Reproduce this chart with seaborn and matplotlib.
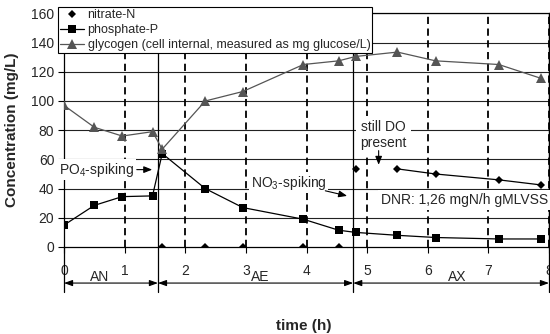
import matplotlib

matplotlib.use("Agg")

import matplotlib.pyplot as plt
import pandas as pd
import seaborn as sns


TIME = [0, 0.5, 0.96, 1.46, 1.62, 2.33, 2.95, 3.95, 4.53, 4.81, 5.5, 6.13, 7.17, 7.87]
GLYCOGEN = [97, 82, 76, 79, 67, 100, 106.5, 125, 127.5, 130.5, 133.5, 127.5, 125, 115.5]
PHOSPHATE = [15, 28.5, 34.5, 35, 64, 40, 27, 19, 11.5, 10, 8, 6.5, 5.5, 5.5]
NITRATE_TIME = [1.62, 2.33, 2.95, 3.95, 4.53, 4.81, 5.5, 6.13, 7.17, 7.87]
NITRATE = [0, 0, 0, 0, 0, 53.5, 53.5, 50, 46, 42.5]
NITRATE_LINE_FROM = 6  # line drawn only from 5.5 h on

PHASE_BOUNDS = [0, 1.55, 4.77, 8]
PHASE_NAMES = ["AN", "AE", "AX"]
PHASE_LABEL_X = [0.58, 3.24, 6.48]
DASHED_AT = [1, 2, 3, 4, 5, 6, 7, 8]

LABELS = {
    "nitrate": "nitrate-N",
    "phosphate": "phosphate-P",
    "glycogen": "glycogen (cell internal, measured as mg glucose/L)",
}

sns.set_style("ticks")
plt.rcParams["font.family"] = ["Liberation Sans", "DejaVu Sans"]
plt.rcParams["mathtext.fontset"] = "custom"
plt.rcParams["mathtext.rm"] = "Liberation Sans"

df = pd.DataFrame({"time": TIME, "glycogen": GLYCOGEN, "phosphate": PHOSPHATE})
nit = pd.DataFrame({"time": NITRATE_TIME, "nitrate": NITRATE})

fig = plt.figure(figsize=(5.5, 3.34), dpi=100)
ax = fig.add_axes([64 / 550, 1 - 247 / 334, 485 / 550, 233.6 / 334])

for yv in range(20, 161, 20):
    ax.axhline(yv, color="#222222", lw=0.8, zorder=1)
for xv in DASHED_AT:
    ax.axvline(xv, ymin=0, ymax=1, color="black", lw=1.3, ls=(0, (4, 2.5)), zorder=1)

# phase boundaries reach below the axis
y_low = -31
for xb in PHASE_BOUNDS:
    top = 0 if xb == 0 else 160
    ax.plot([xb, xb], [y_low, top], color="black", lw=0.9, clip_on=False, zorder=2)
arrow_y = -24.7
for i, name in enumerate(PHASE_NAMES):
    ax.annotate("", xy=(PHASE_BOUNDS[i + 1], arrow_y), xytext=(PHASE_BOUNDS[i], arrow_y),
                arrowprops=dict(arrowstyle="<|-|>,head_length=0.5,head_width=0.18",
                                color="black", lw=0.8, shrinkA=0, shrinkB=0),
                annotation_clip=False)
    ax.text(PHASE_LABEL_X[i], -20.6, name, ha="center", va="center", fontsize=10)

sns.lineplot(data=nit, x="time", y="nitrate", ax=ax, color="black", linestyle="",
             marker="D", markersize=4, markeredgewidth=0, label=LABELS["nitrate"], zorder=4)
sns.lineplot(data=nit.iloc[NITRATE_LINE_FROM:], x="time", y="nitrate", ax=ax, color="black",
             lw=0.9, label="_nolegend_", zorder=3)
sns.lineplot(data=df, x="time", y="phosphate", ax=ax, color="black", lw=0.9, marker="s",
             markersize=6, markeredgewidth=0, label=LABELS["phosphate"], zorder=4)
sns.lineplot(data=df, x="time", y="glycogen", ax=ax, color="#555555", lw=0.9, marker="^",
             markersize=6.5, markeredgewidth=0, label=LABELS["glycogen"], zorder=4)

bbox = dict(facecolor="white", edgecolor="none", pad=1)
ax.text(-0.08, 53, "PO$_4$-spiking", fontsize=10, ha="left", va="center", bbox=bbox, zorder=5)
ax.annotate("", xy=(1.455, 53), xytext=(1.2, 53),
            arrowprops=dict(arrowstyle="-|>,head_length=0.5,head_width=0.2", color="black",
                            lw=0.8, shrinkA=0, shrinkB=0), zorder=5)
ax.text(3.08, 44, "NO$_3$-spiking", fontsize=10, ha="left", va="center", bbox=bbox, zorder=5)
ax.annotate("", xy=(4.67, 35), xytext=(4.31, 38.5),
            arrowprops=dict(arrowstyle="-|>,head_length=0.5,head_width=0.2", color="black",
                            lw=0.8, shrinkA=0, shrinkB=0), zorder=5)
ax.text(5.27, 76.5, "still DO\npresent", fontsize=10, ha="center", va="center",
        linespacing=1.15, bbox=dict(facecolor="white", edgecolor="none", pad=3), zorder=5)
ax.annotate("", xy=(5.19, 56.3), xytext=(5.19, 66),
            arrowprops=dict(arrowstyle="-|>,head_length=0.5,head_width=0.2", color="black",
                            lw=0.8, shrinkA=0, shrinkB=0), zorder=5)
ax.text(7.99, 32.3, "DNR: 1,26 mgN/h gMLVSS", fontsize=10, ha="right", va="center",
        bbox=dict(facecolor="white", edgecolor="none", pad=2), zorder=5)

ax.set_xlim(0, 8)
ax.set_ylim(0, 160)
ax.set_xticks(range(0, 9))
ax.set_yticks(range(0, 161, 20))
ax.tick_params(axis="both", direction="out", length=4, width=0.8, labelsize=10, color="black")
ax.tick_params(axis="x", pad=8)
ax.tick_params(axis="y", pad=3)
for side in ["left", "bottom", "top", "right"]:
    ax.spines[side].set_color("black")
    ax.spines[side].set_linewidth(0.9)

ax.set_xlabel("time (h)", fontsize=11, fontweight="bold")
ax.set_ylabel("Concentration (mg/L)", fontsize=11, fontweight="bold")
ax.xaxis.set_label_coords(0.495, -0.308)
ax.yaxis.set_label_coords(-0.093, 0.5)

leg = ax.legend(loc="upper left", bbox_to_anchor=(-0.012, 1.027), borderaxespad=0,
                fontsize=9, frameon=True, fancybox=False, framealpha=1, edgecolor="black",
                borderpad=0.15, labelspacing=0.25, handlelength=1.9, handletextpad=0.3)
leg.get_frame().set_linewidth(0.8)
leg.set_zorder(10)

fig.savefig("out.png", dpi=100)
